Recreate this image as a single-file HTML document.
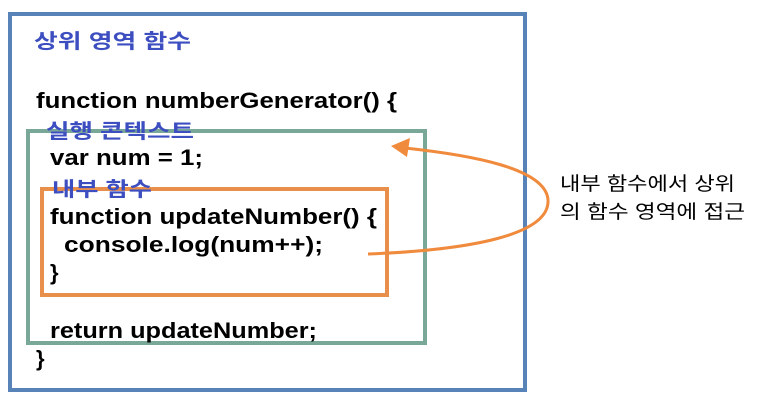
<!DOCTYPE html>
<html><head><meta charset="utf-8"><style>html,body{margin:0;padding:0;background:#fff}svg{display:block}</style></head>
<body>
<svg width="759" height="404" viewBox="0 0 759 404" xmlns="http://www.w3.org/2000/svg">
<rect x="10" y="14" width="515" height="376" fill="none" stroke="#5783B8" stroke-width="4"/>
<rect x="28" y="131" width="397" height="212" fill="none" stroke="#7AA898" stroke-width="4"/>
<rect x="42" y="189" width="345" height="106" fill="none" stroke="#E88F4B" stroke-width="4"/>
<g font-family="Liberation Sans, Noto Sans CJK KR, sans-serif" font-weight="bold" font-size="22" fill="#000">
<text x="36" y="108" textLength="361" lengthAdjust="spacingAndGlyphs">function numberGenerator() {</text>
<text x="50" y="165" textLength="153" lengthAdjust="spacingAndGlyphs">var num = 1;</text>
<text x="50" y="224" textLength="327" lengthAdjust="spacingAndGlyphs">function updateNumber() {</text>
<text x="64" y="252" textLength="259" lengthAdjust="spacingAndGlyphs">console.log(num++);</text>
<text x="50" y="280">}</text>
<text x="50" y="338" textLength="267" lengthAdjust="spacingAndGlyphs">return updateNumber;</text>
<text x="36" y="366">}</text>
</g>
<g font-family="Liberation Sans, Noto Sans CJK KR, sans-serif" font-size="20" fill="#3D4FC0" font-weight="bold">
<text x="34" y="48" textLength="157" lengthAdjust="spacingAndGlyphs">상위 영역 함수</text>
<text x="46" y="138" textLength="148" lengthAdjust="spacingAndGlyphs">실행 콘텍스트</text>
<text x="52" y="196" textLength="100" lengthAdjust="spacingAndGlyphs">내부 함수</text>
</g>
<g font-family="Liberation Sans, Noto Sans CJK KR, sans-serif" font-size="19" fill="#000">
<text x="560" y="190" textLength="175" lengthAdjust="spacingAndGlyphs">내부 함수에서 상위</text>
<text x="560" y="218" textLength="185" lengthAdjust="spacingAndGlyphs">의 함수 영역에 접근</text>
</g>
<path d="M368,254 C470,250 550,235 548,200 C546,168 470,155 405,148" fill="none" stroke="#F08A3C" stroke-width="3"/>
<polygon points="391,146 410,138 407,157" fill="#F08A3C"/>
</svg>
</body></html>
